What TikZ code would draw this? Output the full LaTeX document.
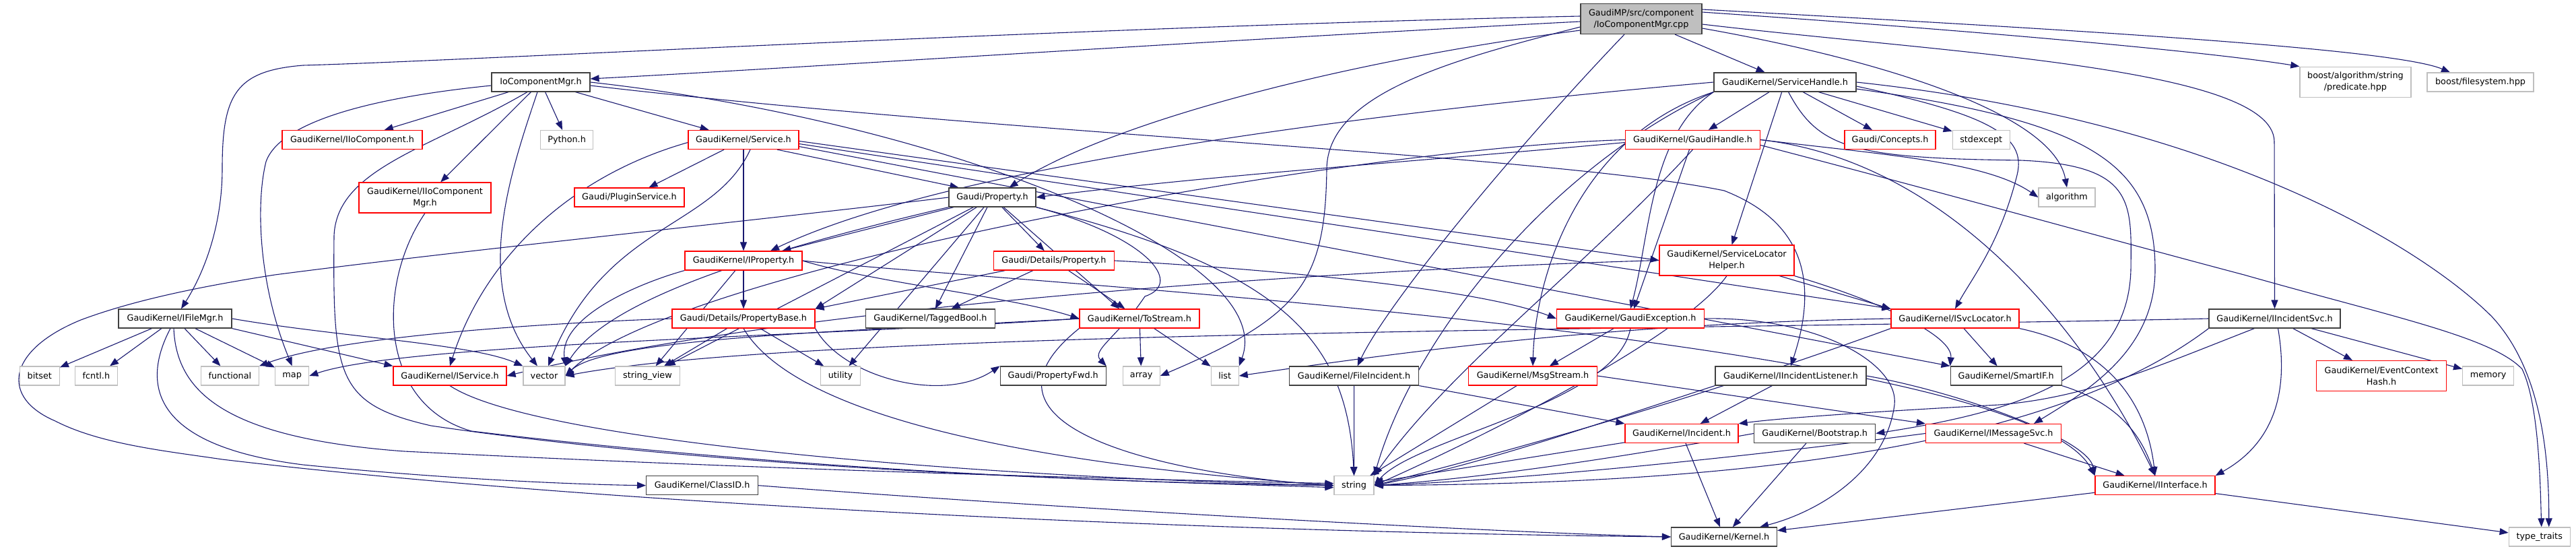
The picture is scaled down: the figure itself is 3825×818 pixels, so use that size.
\documentclass[tikz,border=0pt]{standalone}
\usepackage{fontspec}
\setmainfont{DejaVu Sans}
\usetikzlibrary{arrows.meta}
\definecolor{edgecol}{HTML}{191970}
\definecolor{nred}{HTML}{FF0000}
\definecolor{ngray}{HTML}{BFBFBF}
\definecolor{nblack}{HTML}{404040}
\pgfdeclarelayer{bg}
\pgfsetlayers{bg,main}
\tikzset{
 nbase/.style={draw, fill=white, line width=1.2pt, inner xsep=8pt, inner ysep=2pt, minimum height=28pt, font=\fontsize{12.8}{17}\selectfont, align=center, text=black},
 rnode/.style={nbase, draw=nred},
 gnode/.style={nbase, draw=ngray},
 bnode/.style={nbase, draw=nblack},
 mnode/.style={nbase, draw=nblack, fill=ngray},
 two/.style={minimum height=45pt},
 e/.style={draw=edgecol, line width=1.1pt, -{Triangle[length=13pt,width=10pt]}},
}
\begin{document}
\begin{tikzpicture}[x=1pt,y=-1pt]
\useasboundingbox (0,0) rectangle (3825,818);
% nodes
\node[mnode,two,minimum width=180pt] (cpp) at (2437,28) {GaudiMP/src/component\\/IoComponentMgr.cpp};
\node[bnode,minimum width=146pt] (iocm) at (803,122) {IoComponentMgr.h};
\node[bnode,minimum width=168pt] (ifm) at (260,473) {GaudiKernel/IFileMgr.h};
\node[rnode,minimum width=208pt] (iioc) at (523,207.5) {GaudiKernel/IIoComponent.h};
\node[rnode,two,minimum width=196pt] (iiocm) at (631,293.5) {GaudiKernel/IIoComponent\\Mgr.h};
\node[gnode,minimum width=78pt] (py) at (841.6,207.5) {Python.h};
\node[rnode,minimum width=164pt] (svc) at (1104,207.5) {GaudiKernel/Service.h};
\node[rnode,minimum width=163pt] (plug) at (934.5,293) {Gaudi/PluginService.h};
\node[rnode,minimum width=174pt] (iprop) at (1104,387) {GaudiKernel/IProperty.h};
\node[bnode,minimum width=129pt] (prop) at (1473.5,293) {Gaudi/Property.h};
\node[rnode,minimum width=179pt] (dprop) at (1565,387) {Gaudi/Details/Property.h};
\node[rnode,minimum width=212pt] (pbase) at (1104,473) {Gaudi/Details/PropertyBase.h};
\node[bnode,minimum width=192pt] (tbool) at (1381.4,473) {GaudiKernel/TaggedBool.h};
\node[rnode,minimum width=178pt] (tostr) at (1692,473) {GaudiKernel/ToStream.h};
\node[bnode,minimum width=157pt] (pfwd) at (1563.7,558) {Gaudi/PropertyFwd.h};
\node[gnode,minimum width=55pt] (array) at (1694.7,558) {array};
\node[gnode,minimum width=41pt] (list) at (1818.7,558) {list};
\node[gnode,minimum width=62pt] (vector) at (808,558) {vector};
\node[gnode,minimum width=96pt] (sv) at (961.5,558) {string\_view};
\node[gnode,minimum width=59pt] (utility) at (1248,558) {utility};
\node[gnode,minimum width=50pt] (map) at (433.7,558) {map};
\node[gnode,minimum width=86pt] (functional) at (341.4,558) {functional};
\node[gnode,minimum width=63pt] (fcntl) at (142.9,558) {fcntl.h};
\node[gnode,minimum width=59pt] (bitset) at (58.8,558) {bitset};
\node[rnode,minimum width=168pt] (isvc) at (668,558) {GaudiKernel/IService.h};
\node[bnode,minimum width=166pt] (classid) at (1042.6,720.7) {GaudiKernel/ClassID.h};
\node[gnode,minimum width=59pt] (string) at (2010.5,720.7) {string};
\node[bnode,minimum width=192pt] (finc) at (2010.6,558) {GaudiKernel/FileIncident.h};
\node[rnode,minimum width=219pt] (gexc) at (2421,473) {GaudiKernel/GaudiException.h};
\node[rnode,minimum width=191pt] (msgs) at (2276,558) {GaudiKernel/MsgStream.h};
\node[rnode,minimum width=168pt] (incident) at (2497,643.5) {GaudiKernel/Incident.h};
\node[bnode,minimum width=157pt] (kernel) at (2560,797) {GaudiKernel/Kernel.h};
\node[bnode,minimum width=211pt] (shandle) at (2650.5,122) {GaudiKernel/ServiceHandle.h};
\node[rnode,minimum width=200pt] (ghandle) at (2513.5,207.5) {GaudiKernel/GaudiHandle.h};
\node[rnode,minimum width=135pt] (concepts) at (2806.5,207.5) {Gaudi/Concepts.h};
\node[gnode,minimum width=85pt] (stdexcept) at (2941.7,207.5) {stdexcept};
\node[gnode,minimum width=84pt] (algorithm) at (3069,293) {algorithm};
\node[rnode,two,minimum width=200pt] (slh) at (2564,386.5) {GaudiKernel/ServiceLocator\\Helper.h};
\node[gnode,two,minimum width=165pt] (boostpred) at (3497.4,121.7) {boost/algorithm/string\\/predicate.hpp};
\node[gnode,minimum width=158pt] (boostfs) at (3683,122) {boost/filesystem.hpp};
\node[rnode,minimum width=190pt] (isl) at (2903,473) {GaudiKernel/ISvcLocator.h};
\node[bnode,minimum width=224pt] (iinclist) at (2659,558) {GaudiKernel/IIncidentListener.h};
\node[bnode,minimum width=165pt] (smartif) at (2978.6,558) {GaudiKernel/SmartIF.h};
\node[bnode,minimum width=180pt] (boot) at (2694.7,643.5) {GaudiKernel/Bootstrap.h};
\node[rnode,minimum width=201pt] (imsg) at (2960,643.5) {GaudiKernel/IMessageSvc.h};
\node[rnode,minimum width=178pt] (iint) at (3200,720.7) {GaudiKernel/IInterface.h};
\node[bnode,minimum width=195pt] (iincsvc) at (3377.5,473) {GaudiKernel/IIncidentSvc.h};
\node[rnode,two,minimum width=193pt] (ech) at (3536,558) {GaudiKernel/EventContext\\Hash.h};
\node[gnode,minimum width=76pt] (memory) at (3694.6,558) {memory};
\node[gnode,minimum width=91pt] (typetraits) at (3770.7,797) {type\_traits};

\begin{pgfonlayer}{bg}
% cpp
\draw[e] ([yshift=-4pt]cpp.west) .. controls (1800,60) and (1200,100) .. ([yshift=5pt]iocm.east);
\draw[e] ([yshift=4pt]cpp.west) .. controls (1600,40) and (700,90) .. (450,97) .. controls (350,105) and (330,140) .. (330,250) .. controls (330,340) and (300,410) .. ([xshift=9pt]ifm.north);
\draw[e] ([yshift=-17pt]cpp.west) .. controls (2000,90) and (1650,180) .. ([xshift=25pt]prop.north);
\draw[e] ([xshift=50pt]cpp.south) -- ([xshift=-30pt]shandle.north);
\draw[e] ([xshift=-25pt]cpp.south) .. controls (2250,220) and (2060,450) .. ([xshift=5pt]finc.north);
\draw[e] ([yshift=-12pt]cpp.west) .. controls (2150,90) and (1972,140) .. (1970,250) .. controls (1968,420) and (1930,470) .. (array.east);
\draw[e] ([yshift=-8pt]cpp.east) .. controls (2900,80) and (3375,100) .. (3377,210) -- (iincsvc.north);
\draw[e] ([yshift=10pt]cpp.east) .. controls (3000,50) and (3300,80) .. (boostpred.north west);
\draw[e] ([yshift=14pt]cpp.east) .. controls (3000,40) and (3550,70) .. ([xshift=-45pt]boostfs.north);
\draw[e] ([yshift=-14pt]cpp.east) .. controls (2800,90) and (3050,170) .. (algorithm.north);
% IoComponentMgr.h
\draw[e] (iocm) -- (iioc);
\draw[e] (iocm) -- (iiocm);
\draw[e] (iocm) -- (py);
\draw[e] (iocm) -- (svc);
\draw[e] ([yshift=-5pt]iocm.west) .. controls (600,140) and (420,170) .. (395,240) .. controls (380,300) and (383,420) .. (map.north);
\draw[e] ([xshift=-20pt]iocm.south) .. controls (640,220) and (500,250) .. (496,350) .. controls (494,560) and (500,600) .. (640,632) .. controls (1100,700) and (1700,715) .. ([yshift=-3pt]string.west);
\draw[e] ([xshift=-5pt]iocm.south) .. controls (760,250) and (700,420) .. ([xshift=-10pt]vector.north);
\draw[e] ([yshift=-5pt]iocm.east) .. controls (1500,200) and (2300,230) .. (2560,283) .. controls (2680,330) and (2700,420) .. (iinclist.north);
\draw[e] (iocm.east) .. controls (1400,180) and (1900,380) .. (list.north east);
% IIoComponentMgr.h
\draw[e] (iiocm.south) .. controls (560,420) and (560,600) .. (700,640) .. controls (1200,700) and (1700,718) .. (string.west);
% Service.h
\draw[e] (svc) -- (plug);
\draw[e] (svc) -- (iprop);
\draw[e] ([xshift=50pt]svc.south) -- ([xshift=-50pt]prop.north);
\draw[e] ([yshift=-4pt]svc.west) .. controls (850,260) and (720,380) .. (isvc.north);
\draw[e] ([xshift=10pt]svc.south) .. controls (1060,340) and (900,330) .. ([xshift=6pt]vector.north);
\draw[e] ([yshift=-2pt]svc.east) -- (slh.west);
\draw[e] ([yshift=-6pt]svc.east) -- (isl.north west);
\draw[e] ([yshift=-10pt]svc.east) -- (smartif.north west);
% IFileMgr.h
\draw[e] (ifm) -- (bitset);
\draw[e] (ifm) -- (fcntl);
\draw[e] (ifm) -- (functional);
\draw[e] (ifm) -- (map);
\draw[e] (ifm.south east) -- (isvc.north west);
\draw[e] (ifm.east) .. controls (500,500) and (700,510) .. (vector.north west);
\draw[e] ([xshift=-7pt]ifm.south) .. controls (215,560) and (210,660) .. (450,690) .. controls (700,715) and (900,720) .. (classid.west);
\draw[e] ([xshift=-2pt]ifm.south) .. controls (262,580) and (330,650) .. (600,670) .. controls (1200,700) and (1700,712) .. ([yshift=3pt]string.west);
% IProperty.h
\draw[e] (iprop.south west) .. controls (950,420) and (830,470) .. (vector.north east);
\draw[e] (iprop) -- (sv);
\draw[e] (iprop) -- (pbase);
\draw[e] (iprop.east) .. controls (1500,420) and (3000,500) .. (iint.north west);
\draw[e] (iprop.east) .. controls (1300,420) and (1500,440) .. (tostr.west);
% Gaudi/Property.h
\draw[e] (prop) -- (iprop);
\draw[e] (prop) -- (dprop);
\draw[e] (prop) -- (pbase.north east);
\draw[e] (prop) -- (tbool);
\draw[e] (prop) -- ([xshift=-30pt]tostr.north);
\draw[e] (prop.south east) .. controls (1700,350) and (1760,420) .. (1700,440) .. controls (1660,500) and (1620,520) .. (pfwd.north east);
\draw[e] (prop.south east) .. controls (1900,400) and (2000,500) .. (string.north);
\draw[e] (prop) -- (sv);
\draw[e] (prop) -- (utility);
\draw[e] (prop.south west) .. controls (1100,380) and (900,450) .. (vector.north east);
\draw[e] (prop.west) .. controls (1100,330) and (700,370) .. (408,408) .. controls (300,425) and (200,445) .. (120,475) .. controls (10,520) and (0,590) .. (82,625) .. controls (150,660) and (250,670) .. (330,682) .. controls (900,750) and (1800,790) .. (kernel.west);
% Details/Property.h
\draw[e] (dprop) -- (pbase.north east);
\draw[e] (dprop) -- (tbool);
\draw[e] (dprop) -- (tostr);
\draw[e] (dprop.east) .. controls (1900,400) and (2200,430) .. (gexc.west);
% PropertyBase.h
\draw[e] (pbase) -- (sv);
\draw[e] (pbase) -- (utility);
\draw[e] (pbase.south east) .. controls (1250,560) and (1400,600) .. (pfwd.north west);
\draw[e] (pbase.south) .. controls (1200,650) and (1700,700) .. (string.west);
\draw[e] (pbase.west) .. controls (800,480) and (500,500) .. (functional.north east);
% ToStream.h
\draw[e] (tostr) -- (array);
\draw[e] (tostr) -- (list);
\draw[e] (tostr.west) .. controls (1300,490) and (900,500) .. (vector.east);
\draw[e] (tostr.west) .. controls (1200,500) and (600,510) .. (map.east);
\draw[e] (tostr.south west) .. controls (1400,650) and (1800,710) .. (string.west);
% ServiceHandle.h
\draw[e] (shandle) -- (ghandle);
\draw[e] (shandle) -- (concepts);
\draw[e] (shandle) -- (stdexcept);
\draw[e] (shandle) -- (slh);
\draw[e] (shandle.west) .. controls (2000,170) and (1400,250) .. ([xshift=40pt]iprop.north);
\draw[e] (shandle.south west) .. controls (2450,200) and (2450,350) .. (gexc.north);
\draw[e] (shandle.south west) .. controls (2350,200) and (2280,400) .. (msgs.north);
\draw[e] ([yshift=-10pt]shandle.east) .. controls (3100,180) and (3200,240) .. (3200,400) .. controls (3200,520) and (3100,580) .. ([xshift=60pt]imsg.north);
\draw[e] ([yshift=-6pt]shandle.east) .. controls (2950,170) and (3010,200) .. (2995,260) .. controls (2970,360) and (2930,410) .. (isl.north);
\draw[e] ([xshift=5pt]shandle.south) .. controls (2700,220) and (2750,235) .. (3000,238) .. controls (3170,245) and (3165,300) .. (3164,400) .. controls (3160,560) and (3000,610) .. (boot.east);
\draw[e] (shandle.south west) .. controls (2300,250) and (2100,500) .. (string.north east);
\draw[e] (shandle.east) .. controls (3300,180) and (3600,370) .. (3700,470) .. controls (3765,540) and (3785,650) .. ([xshift=14pt]typetraits.north);
% GaudiHandle.h
\draw[e] ([yshift=-4pt]ghandle.west) .. controls (2100,240) and (1800,260) .. (prop.east);
\draw[e] (ghandle) -- (gexc);
\draw[e] (ghandle.east) .. controls (2900,240) and (3100,500) .. (iint.north);
\draw[e] (ghandle.east) .. controls (2800,230) and (2950,240) .. (algorithm.west);
\draw[e] (ghandle.south) .. controls (2350,400) and (2150,550) .. (string.north east);
\draw[e] ([yshift=-8pt]ghandle.east) .. controls (2900,290) and (3150,360) .. (3332,408) .. controls (3550,470) and (3700,500) .. (3745,548) .. controls (3770,600) and (3772,720) .. ([xshift=3pt]typetraits.north);
\draw[e] (ghandle.west) .. controls (2000,220) and (1000,400) .. (vector.east);
% GaudiException.h
\draw[e] (gexc) -- (msgs);
\draw[e] (gexc.south) .. controls (2400,600) and (2100,650) .. (string.east);
\draw[e] (gexc.east) .. controls (2700,470) and (2820,540) .. (2813,601) .. controls (2800,700) and (2700,760) .. ([xshift=53pt]kernel.north);
% MsgStream.h
\draw[e] (msgs.east) -- (imsg.north west);
\draw[e] (msgs) -- (string);
% FileIncident.h
\draw[e] (finc) -- (string);
\draw[e] (finc.south east) -- (incident.north west);
% Incident.h
\draw[e] (incident) -- (string);
\draw[e] (incident) -- (kernel);
% IIncidentListener.h
\draw[e] (iinclist) -- (incident);
\draw[e] (iinclist.east) .. controls (2900,580) and (3100,650) .. (iint.north west);
\draw[e] (iinclist.south west) .. controls (2400,620) and (2200,690) .. (string.east);
% ISvcLocator.h
\draw[e] (isl) -- (smartif);
\draw[e] (isl.south east) .. controls (3150,520) and (3190,620) .. (iint.north);
\draw[e] (isl.west) .. controls (2400,480) and (2100,520) .. (list.east);
\draw[e] (isl.south west) .. controls (2500,600) and (2200,680) .. (string.east);
% ServiceLocatorHelper.h
\draw[e] (slh) -- (isl.north west);
\draw[e] (slh.south east) .. controls (2800,450) and (2900,500) .. (smartif.north west);
\draw[e] (slh.west) .. controls (2000,400) and (1200,450) .. (isvc.east);
\draw[e] (slh.south) .. controls (2500,500) and (2200,650) .. (string.east);
% SmartIF.h
\draw[e] (smartif.south east) .. controls (3150,600) and (3180,650) .. (iint.north);
% Bootstrap.h
\draw[e] (boot) -- (kernel);
\draw[e] (boot.west) .. controls (2400,680) and (2200,710) .. (string.east);
% IMessageSvc.h
\draw[e] (imsg) -- (iint);
\draw[e] (imsg.west) .. controls (2500,690) and (2200,715) .. (string.east);
% IInterface.h
\draw[e] (iint) -- (kernel);
\draw[e] (iint) -- (typetraits);
% IIncidentSvc.h
\draw[e] ([xshift=-30pt]iincsvc.south) .. controls (3200,545) and (3100,590) .. (2968,601) .. controls (2800,610) and (2650,620) .. (incident.north east);
\draw[e] ([xshift=5pt]iincsvc.south) .. controls (3395,560) and (3390,650) .. (iint.north east);
\draw[e] (iincsvc) -- (ech);
\draw[e] (iincsvc) -- (memory);
\draw[e] (iincsvc.west) .. controls (2500,490) and (1200,490) .. (vector.east);
\draw[e] (iincsvc.south west) .. controls (3000,700) and (2400,718) .. (string.east);
% IService.h
\draw[e] (isvc.south) .. controls (800,660) and (1500,710) .. (string.west);
% ClassID.h
\draw[e] (classid.east) .. controls (1500,750) and (2200,790) .. (kernel.west);
\end{pgfonlayer}
\end{tikzpicture}
\end{document}
